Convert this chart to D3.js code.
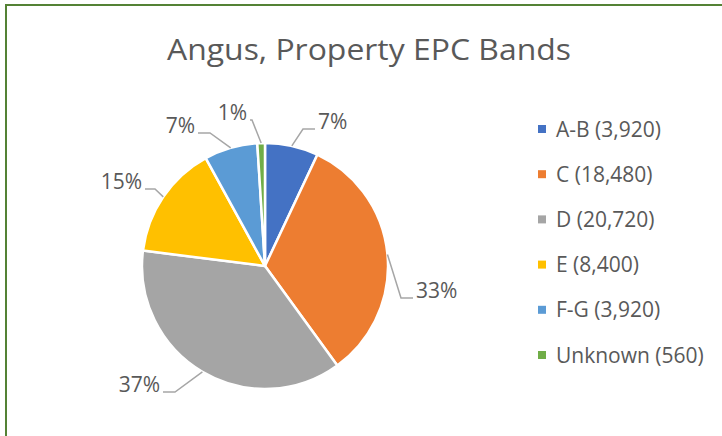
<!DOCTYPE html>
<html>
<head>
<meta charset="utf-8">
<script src="https://cdn.jsdelivr.net/npm/d3@7"></script>
<style>
  body { margin: 0; background: #fff; }
  text { font-family: "Open Sans", sans-serif; fill: #595959; }
</style>
</head>
<body>
<script>
// data
var bands = ["A-B", "C", "D", "E", "F-G", "Unknown"];
var counts = [3920, 18480, 20720, 8400, 3920, 560];
var colours = ["#4472C4", "#ED7D31", "#A5A5A5", "#FFC000", "#5B9BD5", "#70AD47"];

// where Excel put each data label (elbow offset from the centre, side, tail length)
var labelLayout = [
    { ex: 38, ey: -137, side: 1, tail: 12 },
    { ex: 136, ey: 32, side: 1, tail: 12 },
    { ex: -90, ey: 126, side: -1, tail: 12 },
    { ex: -110, ey: -77, side: -1, tail: 10 },
    { ex: -55, ey: -133, side: -1, tail: 12 },
    { ex: -13, ey: -146, side: -1, tail: 2 }
];

var w = 722;
var h = 436;
var cx = 265, cy = 266, r = 123;

var svg = d3.select("body")
    .append("svg")
    .attr("width", w)
    .attr("height", h);

// chart border
svg.append("rect")
    .attr("x", 6)
    .attr("y", 5)
    .attr("width", w)
    .attr("height", h)
    .attr("fill", "none")
    .attr("stroke", "#548235")
    .attr("stroke-width", 2);

svg.append("text")
    .attr("x", 369)
    .attr("y", 60)
    .attr("text-anchor", "middle")
    .attr("font-size", 30)
    .attr("textLength", 404)
    .attr("lengthAdjust", "spacingAndGlyphs")
    .text("Angus, Property EPC Bands");

var total = d3.sum(counts);
var pie = d3.pie().sort(null).value(function(d) { return d; });
var arcs = pie(counts);
var arc = d3.arc().innerRadius(0).outerRadius(r);

var g = svg.append("g")
    .attr("transform", "translate(" + cx + "," + cy + ")");

g.selectAll("path")
    .data(arcs)
    .enter()
    .append("path")
    .attr("d", arc)
    .attr("fill", function(d, i) { return colours[i]; })
    .attr("stroke", "#fff")
    .attr("stroke-width", 2.5)
    .attr("stroke-linejoin", "round");

// leader lines + percentages
arcs.forEach(function(d, i) {
    var a = (d.startAngle + d.endAngle) / 2;
    var sx = r * Math.sin(a), sy = -r * Math.cos(a);
    var L = labelLayout[i];
    var endX = L.ex + L.side * L.tail;
    g.append("polyline")
        .attr("points", [[sx, sy], [L.ex, L.ey], [endX, L.ey]].join(" "))
        .attr("fill", "none")
        .attr("stroke", "#A6A6A6")
        .attr("stroke-width", 1.5);
    g.append("text")
        .attr("x", endX + L.side * 3)
        .attr("y", L.ey)
        .attr("text-anchor", L.side > 0 ? "start" : "end")
        .attr("font-size", 21)
        .text(Math.round(d.value / total * 100) + "%");
});

// legend
var legendY = d3.scalePoint().domain(bands).range([129, 355]);

var legend = svg.selectAll(".legend")
    .data(bands)
    .enter()
    .append("g")
    .attr("transform", function(d) { return "translate(538," + legendY(d) + ")"; });

legend.append("rect")
    .attr("x", 0)
    .attr("y", -4)
    .attr("width", 8)
    .attr("height", 8)
    .attr("fill", function(d, i) { return colours[i]; });

legend.append("text")
    .attr("x", 18)
    .attr("y", 7.5)
    .attr("font-size", 21)
    .text(function(d, i) { return d + " (" + d3.format(",")(counts[i]) + ")"; });
</script>
</body>
</html>
